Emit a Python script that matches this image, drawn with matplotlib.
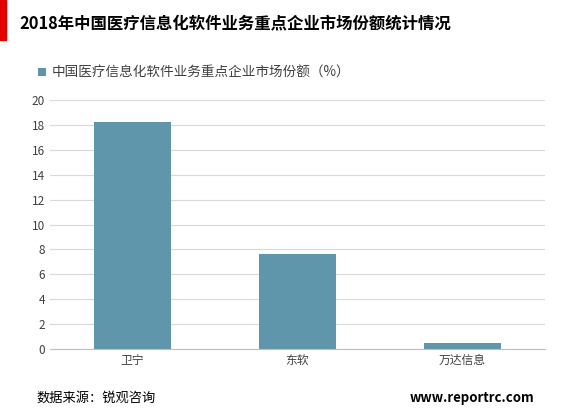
import matplotlib.pyplot as plt
from matplotlib.patches import Rectangle

plt.rcParams['font.family'] = ['Noto Sans CJK SC', 'DejaVu Sans']

companies = ['卫宁', '东软', '万达信息']
shares = [18.2, 7.6, 0.5]
series_name = '中国医疗信息化软件业务重点企业市场份额（%）'
title = '2018年中国医疗信息化软件业务重点企业市场份额统计情况'
bar_color = '#6096ab'

fig = plt.figure(figsize=(5.66, 4.17), dpi=100)
ax = fig.add_axes([0.088, 0.163, 0.875, 0.597])

ax.bar(companies, shares, width=0.47, color=bar_color, label=series_name)
ax.set_ylim(0, 20)
ax.set_yticks(range(0, 21, 2))
ax.set_xlim(-0.5, 2.5)
ax.yaxis.grid(True, color='#d9d9d9', linewidth=0.8)
ax.set_axisbelow(True)
for s in ['top', 'right', 'left']:
    ax.spines[s].set_visible(False)
ax.spines['bottom'].set_color('#bfbfbf')
ax.tick_params(axis='both', length=0, labelsize=8.5, colors='#404040')

fig.patches.append(Rectangle((0, 0.905), 0.01, 0.095, transform=fig.transFigure,
                             color='#e00000'))
fig.text(0.035, 0.945, title, fontsize=11.8, fontweight='bold', va='center')
fig.legend(loc='center left', bbox_to_anchor=(0.045, 0.825), frameon=False,
           fontsize=9.8, handlelength=0.6, handleheight=0.6, handletextpad=0.4,
           labelcolor='#404040')
fig.text(0.065, 0.045, '数据来源：锐观咨询', fontsize=9.5, va='center')
fig.text(0.945, 0.045, 'www.reportrc.com', fontsize=9.5, fontweight='bold',
         va='center', ha='right')

fig.savefig('out.png', dpi=100)
